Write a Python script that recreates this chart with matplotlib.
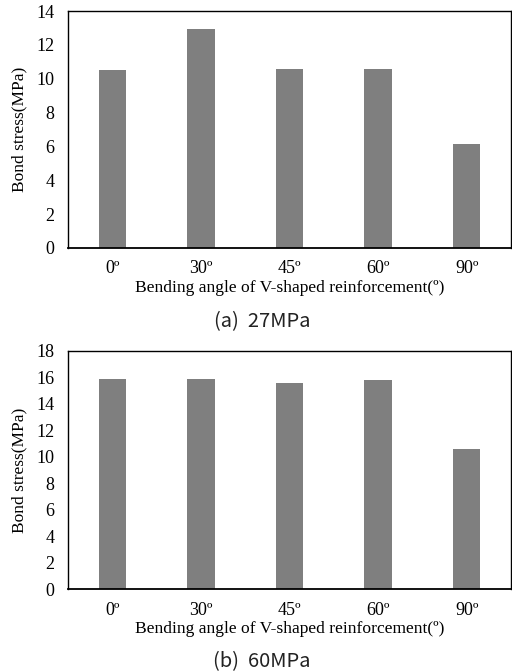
import matplotlib.pyplot as plt

angles = ["0º", "30º", "45º", "60º", "90º"]
stress_27 = [10.53, 12.92, 10.55, 10.55, 6.12]
stress_60 = [15.86, 15.87, 15.61, 15.83, 10.57]
captions = ["(a)  27MPa", "(b)  60MPa"]
ymax = [14, 18]

plt.rcParams["font.family"] = ["Liberation Serif", "DejaVu Serif"]
sans = ["Noto Sans CJK KR", "DejaVu Sans"]

fig = plt.figure(figsize=(5.12, 6.72), dpi=100)
boxes = [[0.133, 0.631, 0.865, 0.3526], [0.133, 0.1235, 0.865, 0.3542]]
cap_y = [0.521, 0.016]

for box, values, top, cap, cy in zip(boxes, [stress_27, stress_60], ymax, captions, cap_y):
    ax = fig.add_axes(box)
    x = range(len(angles))
    ax.bar(x, values, width=0.31, color="#7f7f7f")
    ax.set_xlim(-0.5, len(angles) - 0.5)
    ax.set_ylim(0, top)
    ax.set_yticks(range(0, top + 1, 2))
    ax.set_xticks(list(x))
    ax.set_xticklabels(angles)
    ax.tick_params(axis="y", length=0, labelsize=13, pad=10)
    ax.tick_params(axis="x", length=0, labelsize=13, pad=9)
    for s in ax.spines.values():
        s.set_linewidth(1.0)
    ax.spines["bottom"].set_linewidth(1.3)
    ax.set_ylabel("Bond stress(MPa)", fontsize=12.5, labelpad=6)
    ax.set_xlabel("Bending angle of V-shaped reinforcement(º)", fontsize=12.6, labelpad=2)
    fig.text(0.512, cy, cap, family=sans, fontsize=14.5, fontweight="light",
             ha="center", va="center", color="#222222")

fig.savefig("out.png", dpi=100)
